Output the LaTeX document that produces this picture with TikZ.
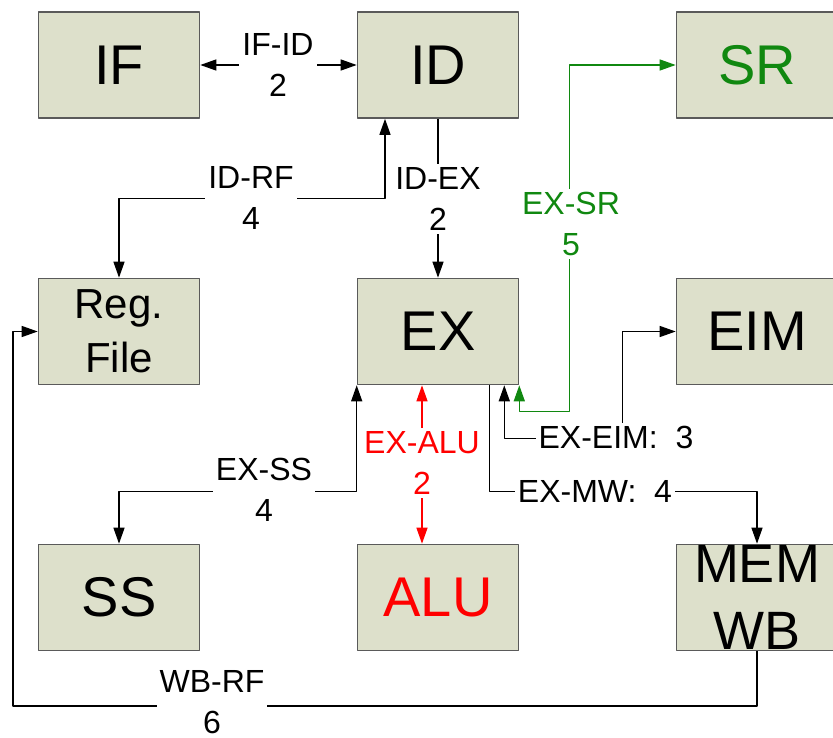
\documentclass[tikz,border=0pt]{standalone}
\usepackage{fontspec}
\setmainfont{Liberation Sans}
\usepackage{xcolor}
\usetikzlibrary{arrows.meta}
\definecolor{stagefill}{RGB}{221,224,203}
\definecolor{stageline}{RGB}{90,90,90}
\definecolor{srgreen}{RGB}{16,136,16}

\begin{document}
\begin{tikzpicture}[x=1pt,y=-1pt,>={Triangle[length=16pt,width=11pt]},line join=round,
  stage/.style={draw=stageline,fill=stagefill,line width=1.6pt,minimum width=161pt,minimum height=106pt,inner sep=0pt,align=center,font=\fontsize{56}{60}\selectfont},
  link/.style={line width=1.3pt},
  lbl/.style={fill=white,inner sep=3pt,align=center,font=\fontsize{32}{41}\selectfont}]
  \useasboundingbox (0,0) rectangle (833,738);
  \node[stage] (IF) at (119,65) {IF};
  \node[stage] (ID) at (438,65) {ID};
  \node[stage,text=srgreen] (SR) at (757,65) {SR};
  \node[stage,font=\fontsize{42}{54}\selectfont] (RF) at (119,331.5) {Reg.\\File};
  \node[stage] (EX) at (438,331.5) {EX};
  \node[stage] (EIM) at (757,331.5) {EIM};
  \node[stage] (SS) at (119,597.5) {SS};
  \node[stage,text=red] (ALU) at (438,597.5) {ALU};
  \node[stage,font=\fontsize{54}{67}\selectfont] (MEM) at (757,597.5) {MEM\\WB};
  \coordinate (wbturn) at (13,706);
  \draw[link,<->] (IF) -- (ID);
  \draw[link,<->] ([xshift=-53pt]ID.south) -- ++(0,80) -| (RF.north);
  \draw[link,->] (ID) -- (EX);
  \draw[link,<->,srgreen] (EX.south east) -- ++(0,26) -| ([xshift=-106pt]SR.west) -- (SR.west);
  \draw[link,<->,red] ([xshift=-16pt]EX.south) -- ([xshift=-16pt]ALU.north);
  \draw[link,<->] (EX.south west) -- ++(0,106) -| (SS.north);
  \draw[link,<->] ([xshift=-15pt]EX.south east) -- ++(0,53) -| ([xshift=-53pt]EIM.west) -- (EIM.west);
  \draw[link,->] ([xshift=-30pt]EX.south east) -- ++(0,106) -| (MEM.north);
  \draw[link,->] (MEM.south) |- (wbturn) |- (RF.west);
  \node[lbl] (lIFID) at (278,65) {IF-ID\\2};
  \node[lbl] (lIDRF) at (251,198) {ID-RF\\4};
  \node[lbl] (lIDEX) at (438,199) {ID-EX\\2};
  \node[lbl,text=srgreen] (lEXSR) at (571,224) {EX-SR\\5};
  \node[lbl,text=red] (lEXALU) at (422,463) {EX-ALU\\2};
  \node[lbl] (lEXSS) at (264,490) {EX-SS\\4};
  \node[lbl] (lEXEIM) at (616,437) {EX-EIM:\ \ 3};
  \node[lbl] (lEXMW) at (595,491) {EX-MW:\ \ 4};
  \node[lbl,inner ysep=1pt] (lWBRF) at (212,702) {WB-RF\\6};
\end{tikzpicture}
\end{document}
